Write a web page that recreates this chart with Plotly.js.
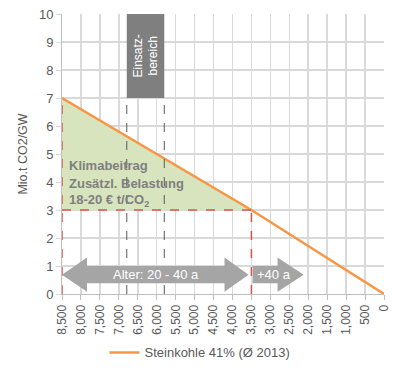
<!DOCTYPE html>
<html>
<head>
<meta charset="utf-8">
<script src="https://cdn.plot.ly/plotly-3.0.1.min.js"></script>
<style>html,body{margin:0;padding:0;background:#fff;}#chart{width:400px;height:371px;}</style>
</head>
<body>
<div id="chart"></div>
<script>
// Data
const seriesName = 'Steinkohle 41% (Ø 2013)';
const capacity = [8500, 3500, 0];
const emissions = [7, 3, 0];
const fillX = [8500, 8500, 3500];
const fillY = [3, 7, 3];
const thresholdY = 3;
const ageLeft = 8500, ageRight = 3500;
const einsatzRange = [6790, 5800];
const einsatzTop = [7, 10];
const arrow1 = [8500, 7840, 4210, 3575]; // tip, headbase, headbase, tip
const arrow2 = [3470, 2810, 2120];        // start, headbase, tip
const arrowBody = [0.38, 1.0];
const arrowHead = [0.08, 1.3];
const xTicks = [8500,8000,7500,7000,6500,6000,5500,5000,4500,4000,3500,3000,2500,2000,1500,1000,500,0];
const boxLines = ['Klimabeitrag', 'Zusätzl. Belastung', '18-20 € t/CO<sub>2</sub>'];
const boxLineY = [4.58, 3.96, 3.34];

const gray = '#595959';
const red = '#e0504a';
const arrowCol = '#a5a5a5';
const FAM = "Arial, 'Liberation Sans', sans-serif";

const traces = [
  {x: fillX, y: fillY, type: 'scatter', mode: 'lines', fill: 'toself',
   fillcolor: '#d7e4bd', line: {width: 0}, showlegend: false, hoverinfo: 'skip'},
  {x: capacity, y: emissions, type: 'scatter', mode: 'lines', name: seriesName,
   line: {color: '#f79646', width: 2.5}}
];

const midY = (arrowBody[0] + arrowBody[1]) / 2;
const shapes = [
  {type: 'rect', xref: 'x', yref: 'y', x0: einsatzRange[0], x1: einsatzRange[1], y0: einsatzTop[0], y1: einsatzTop[1],
   fillcolor: '#7f7f7f', line: {width: 0}, layer: 'above'},
  {type: 'line', xref: 'x', yref: 'y', x0: einsatzRange[0], x1: einsatzRange[0], y0: 0, y1: einsatzTop[0],
   line: {color: gray, width: 1, dash: 'dash'}},
  {type: 'line', xref: 'x', yref: 'y', x0: einsatzRange[1], x1: einsatzRange[1], y0: 0, y1: einsatzTop[0],
   line: {color: gray, width: 1, dash: 'dash'}},
  {type: 'line', xref: 'x', yref: 'y', x0: ageLeft, x1: ageLeft, y0: 0, y1: emissions[0],
   line: {color: red, width: 1.5, dash: 'dash'}},
  {type: 'line', xref: 'x', yref: 'y', x0: ageLeft, x1: ageRight, y0: thresholdY, y1: thresholdY,
   line: {color: red, width: 1.5, dash: 'dash'}},
  {type: 'line', xref: 'x', yref: 'y', x0: ageRight, x1: ageRight, y0: 0, y1: thresholdY,
   line: {color: red, width: 1.5, dash: 'dash'}},
  {type: 'path', xref: 'x', yref: 'y', fillcolor: arrowCol, line: {width: 0}, layer: 'above',
   path: `M ${arrow1[0]},${midY} L ${arrow1[1]},${arrowHead[1]} L ${arrow1[1]},${arrowBody[1]} L ${arrow1[2]},${arrowBody[1]} L ${arrow1[2]},${arrowHead[1]} L ${arrow1[3]},${midY} L ${arrow1[2]},${arrowHead[0]} L ${arrow1[2]},${arrowBody[0]} L ${arrow1[1]},${arrowBody[0]} L ${arrow1[1]},${arrowHead[0]} Z`},
  {type: 'path', xref: 'x', yref: 'y', fillcolor: arrowCol, line: {width: 0}, layer: 'above',
   path: `M ${arrow2[0]},${arrowBody[0]} L ${arrow2[0]},${arrowBody[1]} L ${arrow2[1]},${arrowBody[1]} L ${arrow2[1]},${arrowHead[1]} L ${arrow2[2]},${midY} L ${arrow2[1]},${arrowHead[0]} L ${arrow2[1]},${arrowBody[0]} Z`}
];

const annotations = [
  {x: (einsatzRange[0] + einsatzRange[1]) / 2, y: (einsatzTop[0] + einsatzTop[1]) / 2, xref: 'x', yref: 'y',
   text: 'Einsatz-<br>bereich', showarrow: false, textangle: -90,
   font: {family: FAM, size: 12, color: '#ffffff'}},
  {x: 6010, y: midY, xref: 'x', yref: 'y', text: 'Alter: 20 - 40 a', showarrow: false,
   font: {family: FAM, size: 13, color: '#ffffff'}},
  {x: 2910, y: midY, xref: 'x', yref: 'y', text: '+40 a', showarrow: false,
   font: {family: FAM, size: 13, color: '#ffffff'}}
];
boxLines.forEach((t, i) => annotations.push({
  x: ageLeft, y: boxLineY[i], xref: 'x', yref: 'y', xanchor: 'left', xshift: 5, text: t, showarrow: false,
  font: {family: FAM, size: 13, color: '#7f7f7f', weight: 'bold'}
}));

const layout = {
  width: 400, height: 371,
  margin: {l: 62, r: 16, t: 14, b: 77},
  paper_bgcolor: '#ffffff', plot_bgcolor: '#ffffff',
  font: {family: FAM, color: gray},
  showlegend: true,
  legend: {orientation: 'h', xref: 'container', x: 0.5, xanchor: 'center', yref: 'container', y: 0.05, yanchor: 'middle',
           font: {family: FAM, size: 13, color: gray}},
  xaxis: {range: [8500, 0], tickvals: xTicks, tickformat: ',d', tickangle: -90,
          showgrid: true, gridcolor: '#d9d9d9', gridwidth: 1.5,
          ticks: 'outside', ticklen: 5, tickcolor: '#bfbfbf',
          showline: true, linecolor: '#bfbfbf', linewidth: 1, zeroline: false,
          tickfont: {family: FAM, size: 12, color: gray}, fixedrange: true},
  yaxis: {range: [0, 10], dtick: 1, showgrid: true, gridcolor: '#d9d9d9', gridwidth: 1.5,
          ticks: 'outside', ticklen: 5, tickcolor: '#d9d9d9',
          showline: true, linecolor: '#bfbfbf', zeroline: false,
          tickfont: {family: FAM, size: 13, color: gray},
          title: {text: 'Mio.t CO2/GW', font: {family: FAM, size: 12.5, color: gray}, standoff: 8}, fixedrange: true},
  shapes: shapes,
  annotations: annotations
};

Plotly.newPlot('chart', traces, layout, {displayModeBar: false, staticPlot: true});
</script>
</body>
</html>
